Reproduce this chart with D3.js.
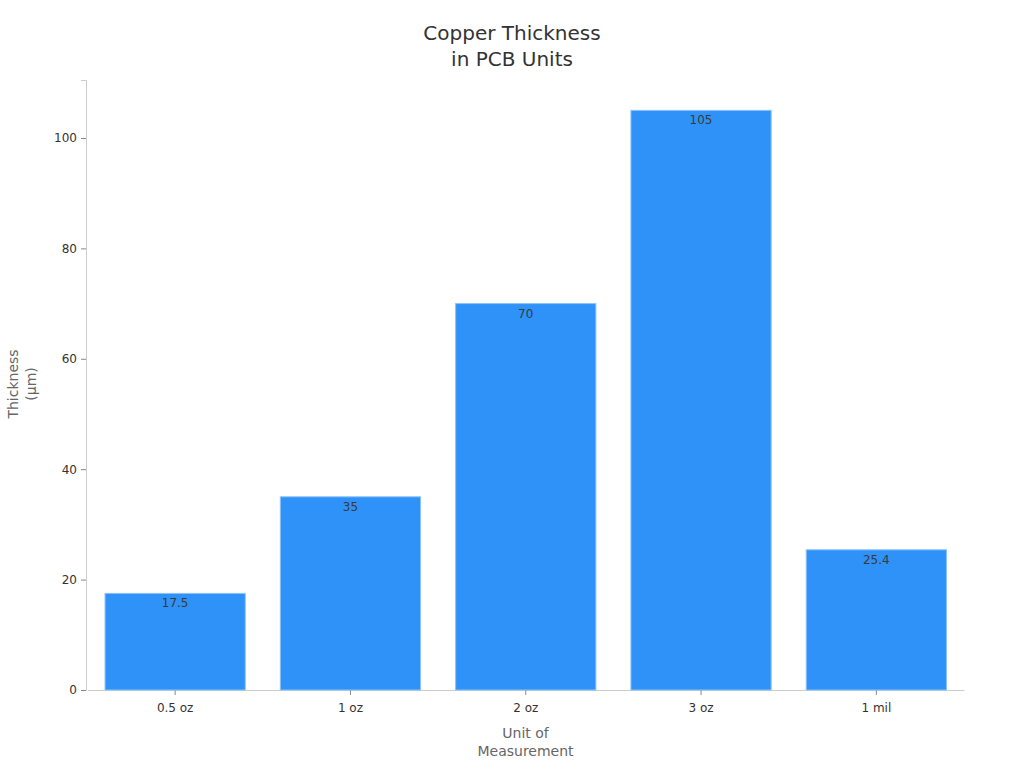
<!DOCTYPE html>
<html>
<head>
<meta charset="utf-8">
<script src="https://cdn.jsdelivr.net/npm/d3@7"></script>
<style>
  body { margin: 0; background: #fff; }
  svg text { font-family: "DejaVu Sans", sans-serif; }
</style>
</head>
<body>
<div id="main"></div>
<script>

// data

const units = ['0.5 oz', '1 oz', '2 oz', '3 oz', '1 mil'];
const thickness = [17.5, 35, 70, 105, 25.4];
const yTicks = [0, 20, 40, 60, 80, 100];

const w = 1024;
const h = 768;
const margin = { top: 80, right: 61, bottom: 78, left: 86 };

const svg = d3.select('#main').append('svg').attr('width', w).attr('height', h);

// scales

const x = d3.scaleBand()
    .domain(units)
    .range([margin.left + 1.5, w - margin.right + 1])
    .paddingInner(0.2)
    .paddingOuter(0.1);

const y = d3.scaleLinear()
    .domain([0, 110.5])
    .range([h - margin.bottom, margin.top]);

// title

svg.append('text')
    .attr('x', w / 2)
    .attr('y', 40)
    .attr('text-anchor', 'middle')
    .attr('font-size', 20)
    .attr('fill', '#333')
    .selectAll('tspan')
    .data(['Copper Thickness', 'in PCB Units'])
    .enter()
    .append('tspan')
    .attr('x', w / 2)
    .attr('dy', (d, i) => i ? 26 : 0)
    .text(d => d);

// axes

const yAxis = svg.append('g')
    .attr('transform', `translate(${margin.left},0)`)
    .call(d3.axisLeft(y).tickValues(yTicks).tickSize(5).tickPadding(4));

const xAxis = svg.append('g')
    .attr('transform', `translate(0,${h - margin.bottom})`)
    .call(d3.axisBottom(x).tickSize(5).tickPadding(8).tickSizeOuter(0));

[yAxis, xAxis].forEach(a => {
    a.select('.domain').attr('stroke', '#ccc');
    a.selectAll('.tick line').attr('stroke', '#888');
    a.selectAll('.tick text').attr('fill', '#333').attr('font-size', 12)
        .style('font-family', '"DejaVu Sans", sans-serif');
});

// bars

svg.append('g')
    .selectAll('rect')
    .data(units)
    .enter()
    .append('rect')
    .attr('x', d => x(d))
    .attr('y', (d, i) => y(thickness[i]))
    .attr('width', x.bandwidth())
    .attr('height', (d, i) => y(0) - y(thickness[i]))
    .attr('fill', '#2E92F8')
    .attr('stroke', '#8cc2f7')
    .attr('stroke-width', 1);

svg.append('g')
    .selectAll('text')
    .data(units)
    .enter()
    .append('text')
    .attr('x', d => x(d) + x.bandwidth() / 2)
    .attr('y', (d, i) => y(thickness[i]) + 14)
    .attr('text-anchor', 'middle')
    .attr('font-size', 12)
    .attr('fill', '#3a3a3a')
    .text((d, i) => thickness[i]);

// axis labels

svg.append('text')
    .attr('text-anchor', 'middle')
    .attr('font-size', 14)
    .attr('fill', '#666')
    .selectAll('tspan')
    .data(['Unit of', 'Measurement'])
    .enter()
    .append('tspan')
    .attr('x', (margin.left + w - margin.right) / 2 + 1)
    .attr('y', (d, i) => 738 + i * 18)
    .text(d => d);

svg.append('text')
    .attr('transform', 'rotate(-90)')
    .attr('text-anchor', 'middle')
    .attr('font-size', 14)
    .attr('fill', '#666')
    .selectAll('tspan')
    .data(['Thickness', '(µm)'])
    .enter()
    .append('tspan')
    .attr('x', -384)
    .attr('y', (d, i) => 18 + i * 18)
    .text(d => d);

</script>
</body>
</html>
